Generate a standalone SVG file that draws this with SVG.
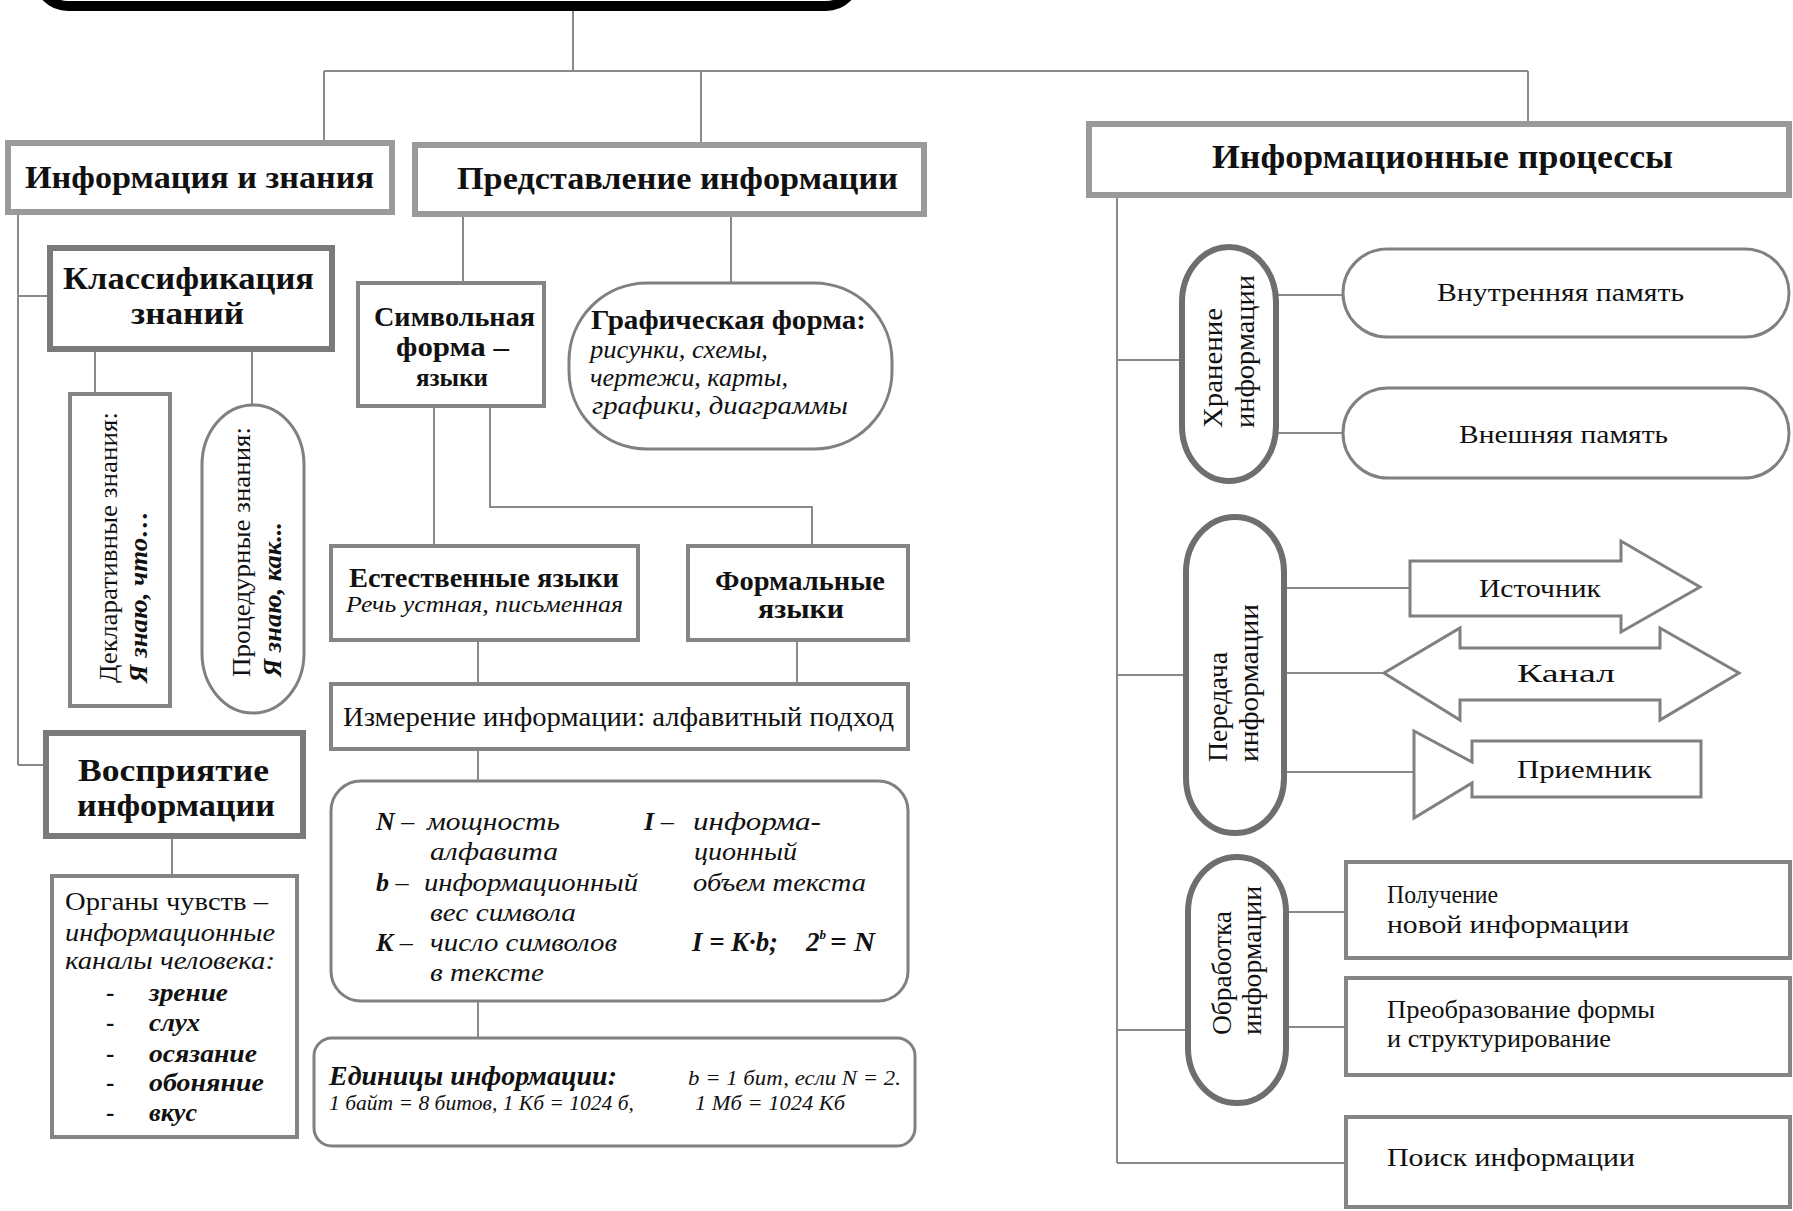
<svg xmlns="http://www.w3.org/2000/svg" width="1793" height="1211" viewBox="0 0 1793 1211">
<style>
.bg{fill:#fff}
.b1{fill:#fff;stroke:#9a9a9a;stroke-width:6}
.b2{fill:#fff;stroke:#7a7a7a;stroke-width:6}
.b3{fill:#fff;stroke:#858585;stroke-width:4}
.b4{fill:#fff;stroke:#808080;stroke-width:3}
.pl{fill:#fff;stroke:#6e6e6e;stroke-width:6}
.c{fill:none;stroke:#8a8a8a;stroke-width:2}
text{font-family:"Liberation Serif","Times New Roman",serif;fill:#111}
.bd{font-weight:bold}
.it{font-style:italic}
.bi{font-weight:bold;font-style:italic}
</style>
<rect class="bg" x="0" y="0" width="1793" height="1211"/>
<g id="top">
<rect x="38" y="-80" width="818" height="86" rx="30" fill="#fff" stroke="#000" stroke-width="10"/>
</g>
<g id="connectors">
<path class="c" d="M573,11 V71 M324,71 H1528 M324,71 V143 M701,71 V145 M1528,71 V124"/>
<path class="c" d="M18,212 V765 M18,296 H50 M18,765 H46 M95,349 V394 M252,349 V405 M172,836 V876"/>
<path class="c" d="M463,214 V283 M731,214 V283 M434,406 V546 M490,406 V507 H812 V546 M478,640 V684 M797,640 V684 M478,749 V781 M478,1001 V1038"/>
<path class="c" d="M1117,195 V1163 M1117,360 H1182 M1117,675 H1186 M1117,1030 H1188 M1117,1163 H1346 M1276,295 H1343 M1276,433 H1343 M1284,588 H1410 M1284,673 H1384 M1284,772 H1414 M1286,912 H1346 M1286,1027 H1346"/>
</g>
<g id="n-info-znania">
<rect class="b1" x="8" y="143" width="384" height="69"/>
<text class="bd" x="25" y="188" font-size="32" textLength="349" lengthAdjust="spacingAndGlyphs">Информация и знания</text>
</g>
<g id="n-predstavlenie">
<rect class="b1" x="415" y="145" width="509" height="69"/>
<text class="bd" x="457" y="189" font-size="32" textLength="441" lengthAdjust="spacingAndGlyphs">Представление информации</text>
</g>
<g id="n-processy">
<rect class="b1" x="1089" y="124" width="700" height="71"/>
<text class="bd" x="1212" y="168" font-size="33" textLength="461" lengthAdjust="spacingAndGlyphs">Информационные процессы</text>
</g>
<g id="n-klassifikacia">
<rect class="b2" x="50" y="248" width="282" height="101"/>
<text class="bd" x="63" y="289" font-size="32" textLength="251" lengthAdjust="spacingAndGlyphs">Классификация</text>
<text class="bd" x="131" y="324" font-size="32" textLength="113" lengthAdjust="spacingAndGlyphs">знаний</text>
</g>
<g id="n-deklarativnye">
<rect class="b3" x="70" y="394" width="100" height="312"/>
<text transform="translate(117,683) rotate(-90)" font-size="26" textLength="271" lengthAdjust="spacingAndGlyphs">Декларативные знания:</text>
<text class="bi" transform="translate(147,683) rotate(-90)" font-size="26" textLength="172" lengthAdjust="spacingAndGlyphs">Я знаю, что…</text>
</g>
<g id="n-procedurnye">
<rect class="b4" x="202" y="405" width="102" height="308" rx="51" ry="60"/>
<text transform="translate(250,677) rotate(-90)" font-size="26" textLength="250" lengthAdjust="spacingAndGlyphs">Процедурные знания:</text>
<text class="bi" transform="translate(281,677) rotate(-90)" font-size="26" textLength="155" lengthAdjust="spacingAndGlyphs">Я знаю, как...</text>
</g>
<g id="n-vospriyatie">
<rect class="b2" x="46" y="733" width="257" height="103"/>
<text class="bd" x="78" y="781" font-size="32" textLength="191" lengthAdjust="spacingAndGlyphs">Восприятие</text>
<text class="bd" x="77" y="816" font-size="32" textLength="198" lengthAdjust="spacingAndGlyphs">информации</text>
</g>
<g id="n-organy">
<rect class="b3" x="52" y="876" width="245" height="261"/>
<text x="65" y="910" font-size="25" textLength="203" lengthAdjust="spacingAndGlyphs">Органы чувств –</text>
<text class="it" x="65" y="941" font-size="25" textLength="210" lengthAdjust="spacingAndGlyphs">информационные</text>
<text class="it" x="65" y="969" font-size="25" textLength="210" lengthAdjust="spacingAndGlyphs">каналы человека:</text>
<text class="bd" x="106" y="1001" font-size="25">-</text>
<text class="bi" x="149" y="1001" font-size="25" textLength="79" lengthAdjust="spacingAndGlyphs">зрение</text>
<text class="bd" x="106" y="1031" font-size="25">-</text>
<text class="bi" x="149" y="1031" font-size="25" textLength="51" lengthAdjust="spacingAndGlyphs">слух</text>
<text class="bd" x="106" y="1062" font-size="25">-</text>
<text class="bi" x="149" y="1062" font-size="25" textLength="108" lengthAdjust="spacingAndGlyphs">осязание</text>
<text class="bd" x="106" y="1091" font-size="25">-</text>
<text class="bi" x="149" y="1091" font-size="25" textLength="115" lengthAdjust="spacingAndGlyphs">обоняние</text>
<text class="bd" x="106" y="1121" font-size="25">-</text>
<text class="bi" x="149" y="1121" font-size="25" textLength="48" lengthAdjust="spacingAndGlyphs">вкус</text>
</g>
<g id="n-simvolnaya">
<rect class="b3" x="358" y="283" width="186" height="123"/>
<text class="bd" x="374" y="326" font-size="27" textLength="161" lengthAdjust="spacingAndGlyphs">Символьная</text>
<text class="bd" x="396" y="356" font-size="27" textLength="113" lengthAdjust="spacingAndGlyphs">форма –</text>
<text class="bd" x="416" y="386" font-size="25" textLength="72" lengthAdjust="spacingAndGlyphs">языки</text>
</g>
<g id="n-graficheskaya">
<rect class="b4" x="569" y="283" width="323" height="166" rx="78" ry="78"/>
<text class="bd" x="591" y="329" font-size="27" textLength="275" lengthAdjust="spacingAndGlyphs">Графическая форма:</text>
<text class="it" x="590" y="358" font-size="25" textLength="178" lengthAdjust="spacingAndGlyphs">рисунки, схемы,</text>
<text class="it" x="590" y="386" font-size="25" textLength="198" lengthAdjust="spacingAndGlyphs">чертежи, карты,</text>
<text class="it" x="592" y="414" font-size="25" textLength="256" lengthAdjust="spacingAndGlyphs">графики, диаграммы</text>
</g>
<g id="n-estestvennye">
<rect class="b3" x="331" y="546" width="307" height="94"/>
<text class="bd" x="349" y="587" font-size="27" textLength="270" lengthAdjust="spacingAndGlyphs">Естественные языки</text>
<text class="it" x="346" y="612" font-size="23" textLength="277" lengthAdjust="spacingAndGlyphs">Речь устная, письменная</text>
</g>
<g id="n-formalnye">
<rect class="b3" x="688" y="546" width="220" height="94"/>
<text class="bd" x="715" y="590" font-size="27" textLength="170" lengthAdjust="spacingAndGlyphs">Формальные</text>
<text class="bd" x="758" y="618" font-size="27" textLength="86" lengthAdjust="spacingAndGlyphs">языки</text>
</g>
<g id="n-izmerenie">
<rect class="b3" x="331" y="684" width="577" height="65"/>
<text x="343" y="726" font-size="27" textLength="551" lengthAdjust="spacingAndGlyphs">Измерение информации: алфавитный подход</text>
</g>
<g id="n-formuly">
<rect class="b4" x="331" y="781" width="577" height="220" rx="30" ry="30"/>
<text x="376" y="830" font-size="26"><tspan class="bi">N</tspan> –</text>
<text class="it" x="427" y="830" font-size="26" textLength="133" lengthAdjust="spacingAndGlyphs">мощность</text>
<text class="it" x="430" y="860" font-size="26" textLength="128" lengthAdjust="spacingAndGlyphs">алфавита</text>
<text x="376" y="891" font-size="26"><tspan class="bi">b</tspan> –</text>
<text class="it" x="424" y="891" font-size="26" textLength="214" lengthAdjust="spacingAndGlyphs">информационный</text>
<text class="it" x="430" y="921" font-size="26" textLength="146" lengthAdjust="spacingAndGlyphs">вес символа</text>
<text x="376" y="951" font-size="26"><tspan class="bi">K</tspan> –</text>
<text class="it" x="430" y="951" font-size="26" textLength="187" lengthAdjust="spacingAndGlyphs">число символов</text>
<text class="it" x="430" y="981" font-size="26" textLength="114" lengthAdjust="spacingAndGlyphs">в тексте</text>
<text x="644" y="830" font-size="26"><tspan class="bi">I</tspan> –</text>
<text class="it" x="693" y="830" font-size="26" textLength="128" lengthAdjust="spacingAndGlyphs">информа-</text>
<text class="it" x="694" y="860" font-size="26" textLength="103" lengthAdjust="spacingAndGlyphs">ционный</text>
<text class="it" x="693" y="891" font-size="26" textLength="173" lengthAdjust="spacingAndGlyphs">объем текста</text>
<text class="bi" x="692" y="951" font-size="27" textLength="86" lengthAdjust="spacingAndGlyphs">I = K·b;</text>
<text class="bi" x="806" y="951" font-size="27">2<tspan font-size="13" dy="-12">b</tspan></text>
<text class="bi" x="830" y="951" font-size="27" textLength="45" lengthAdjust="spacingAndGlyphs">= N</text>
</g>
<g id="n-edinicy">
<rect class="b4" x="314" y="1038" width="601" height="108" rx="18" ry="18"/>
<text class="bi" x="329" y="1085" font-size="27" textLength="288" lengthAdjust="spacingAndGlyphs">Единицы информации:</text>
<text class="it" x="688" y="1085" font-size="20" textLength="213" lengthAdjust="spacingAndGlyphs">b = 1 бит, если N = 2.</text>
<text class="it" x="329" y="1110" font-size="20" textLength="305" lengthAdjust="spacingAndGlyphs">1 байт = 8 битов,  1 Кб = 1024 б,</text>
<text class="it" x="695" y="1110" font-size="20" textLength="150" lengthAdjust="spacingAndGlyphs">1 Мб = 1024 Кб</text>
</g>
<g id="n-hranenie">
<rect class="pl" x="1182" y="247" width="94" height="234" rx="47" ry="55"/>
<text transform="translate(1222,428) rotate(-90)" font-size="28" textLength="120" lengthAdjust="spacingAndGlyphs">Хранение</text>
<text transform="translate(1254,428) rotate(-90)" font-size="28" textLength="153" lengthAdjust="spacingAndGlyphs">информации</text>
</g>
<g id="n-vnutrennyaya">
<rect class="b4" x="1343" y="249" width="446" height="88" rx="44" ry="44"/>
<text x="1437" y="301" font-size="26" textLength="247" lengthAdjust="spacingAndGlyphs">Внутренняя память</text>
</g>
<g id="n-vneshnyaya">
<rect class="b4" x="1343" y="388" width="446" height="90" rx="45" ry="45"/>
<text x="1459" y="443" font-size="26" textLength="209" lengthAdjust="spacingAndGlyphs">Внешняя память</text>
</g>
<g id="n-peredacha">
<rect class="pl" x="1186" y="517" width="98" height="316" rx="49" ry="55"/>
<text transform="translate(1227,762) rotate(-90)" font-size="28" textLength="110" lengthAdjust="spacingAndGlyphs">Передача</text>
<text transform="translate(1258,762) rotate(-90)" font-size="28" textLength="158" lengthAdjust="spacingAndGlyphs">информации</text>
</g>
<g id="n-istochnik">
<polygon class="b4" points="1410,561 1621,561 1621,541 1700,587 1621,632 1621,616 1410,616"/>
<text x="1479" y="597" font-size="26" textLength="122" lengthAdjust="spacingAndGlyphs">Источник</text>
</g>
<g id="n-kanal">
<polygon class="b4" points="1384,673 1460,628 1460,648 1660,648 1660,628 1739,673 1660,720 1660,700 1460,700 1460,720"/>
<text x="1517" y="682" font-size="26" textLength="98" lengthAdjust="spacingAndGlyphs">Канал</text>
</g>
<g id="n-priemnik">
<polygon class="b4" points="1414,731 1472,762 1472,741 1701,741 1701,797 1472,797 1472,783 1414,818"/>
<text x="1517" y="778" font-size="26" textLength="135" lengthAdjust="spacingAndGlyphs">Приемник</text>
</g>
<g id="n-obrabotka">
<rect class="pl" x="1188" y="857" width="98" height="246" rx="49" ry="55"/>
<text transform="translate(1231,1035) rotate(-90)" font-size="28" textLength="124" lengthAdjust="spacingAndGlyphs">Обработка</text>
<text transform="translate(1261,1035) rotate(-90)" font-size="28" textLength="149" lengthAdjust="spacingAndGlyphs">информации</text>
</g>
<g id="n-poluchenie">
<rect class="b3" x="1346" y="862" width="444" height="96"/>
<text x="1387" y="903" font-size="26" textLength="111" lengthAdjust="spacingAndGlyphs">Получение</text>
<text x="1387" y="933" font-size="26" textLength="242" lengthAdjust="spacingAndGlyphs">новой информации</text>
</g>
<g id="n-preobrazovanie">
<rect class="b3" x="1346" y="978" width="444" height="97"/>
<text x="1387" y="1018" font-size="26" textLength="268" lengthAdjust="spacingAndGlyphs">Преобразование формы</text>
<text x="1387" y="1047" font-size="26" textLength="224" lengthAdjust="spacingAndGlyphs">и структурирование</text>
</g>
<g id="n-poisk">
<rect class="b3" x="1346" y="1117" width="444" height="90"/>
<text x="1387" y="1166" font-size="26" textLength="248" lengthAdjust="spacingAndGlyphs">Поиск информации</text>
</g>
</svg>
